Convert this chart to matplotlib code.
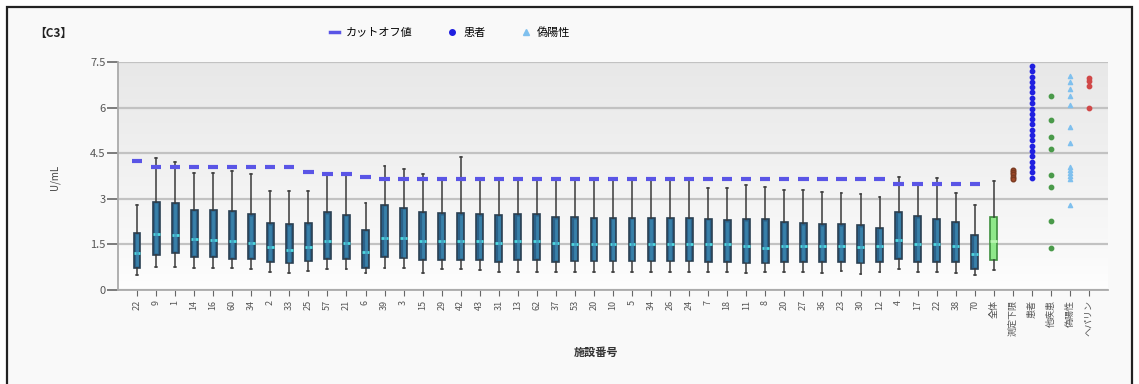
import numpy as np
import matplotlib
matplotlib.use("Agg")
import matplotlib.pyplot as plt
from matplotlib.lines import Line2D
from matplotlib.patches import Rectangle
from matplotlib.colors import LinearSegmentedColormap

plt.rcParams.update({
    "font.family": ["Noto Sans CJK JP", "DejaVu Sans"],
    "font.size": 8,
    "axes.unicode_minus": False,
})

# ---------------------------------------------------------------- data ----
SITES = ["22", "9", "1", "14", "16", "60", "34", "2", "33", "25", "57", "21", "6",
         "39", "3", "15", "29", "42", "43", "31", "13", "62", "37", "53", "20", "10",
         "5", "34", "26", "24", "7", "18", "11", "8", "20", "27", "36", "23", "30",
         "12", "4", "17", "22", "38", "70", "全体"]
GROUPS = ["測定下限", "患者", "他疾患", "偽陽性", "ヘパリン"]

WHIS_LO = [0.50, 0.76, 0.76, 0.73, 0.73, 0.73, 0.68, 0.60, 0.55, 0.62, 0.68, 0.68, 0.57,
           0.73, 0.73, 0.57, 0.68, 0.68, 0.65, 0.60, 0.60, 0.60, 0.60, 0.60, 0.60, 0.60,
           0.60, 0.60, 0.60, 0.60, 0.60, 0.60, 0.55, 0.60, 0.60, 0.60, 0.55, 0.62, 0.52,
           0.60, 0.68, 0.60, 0.60, 0.55, 0.50, 0.66]
Q1 = [0.73, 1.16, 1.22, 1.10, 1.10, 1.02, 1.02, 0.93, 0.88, 0.95, 1.02, 1.02, 0.73,
      1.10, 1.05, 1.00, 1.00, 1.00, 1.00, 0.93, 1.00, 1.00, 0.93, 0.95, 0.95, 0.95,
      0.95, 0.95, 0.95, 0.95, 0.93, 0.93, 0.88, 0.88, 0.93, 0.93, 0.93, 0.93, 0.88,
      0.93, 1.02, 0.93, 0.93, 0.93, 0.70, 1.00]
MED = [1.22, 1.85, 1.80, 1.68, 1.65, 1.60, 1.55, 1.40, 1.33, 1.40, 1.60, 1.55, 1.25,
       1.70, 1.70, 1.60, 1.60, 1.60, 1.60, 1.55, 1.60, 1.60, 1.55, 1.50, 1.50, 1.50,
       1.50, 1.50, 1.50, 1.50, 1.50, 1.50, 1.45, 1.38, 1.45, 1.45, 1.45, 1.45, 1.40,
       1.45, 1.65, 1.50, 1.50, 1.45, 1.20, 1.60]
Q3 = [1.88, 2.90, 2.87, 2.64, 2.64, 2.61, 2.50, 2.20, 2.17, 2.20, 2.55, 2.47, 1.98,
      2.80, 2.70, 2.58, 2.53, 2.53, 2.50, 2.47, 2.50, 2.50, 2.40, 2.40, 2.38, 2.38,
      2.38, 2.38, 2.38, 2.38, 2.35, 2.30, 2.33, 2.33, 2.25, 2.20, 2.17, 2.17, 2.13,
      2.05, 2.58, 2.43, 2.35, 2.25, 1.82, 2.40]
WHIS_HI = [2.80, 4.33, 4.20, 3.85, 3.85, 3.90, 3.80, 3.27, 3.25, 3.27, 3.83, 3.83, 2.87,
           4.07, 3.97, 3.80, 3.63, 4.36, 3.63, 3.63, 3.70, 3.70, 3.63, 3.63, 3.63, 3.63,
           3.63, 3.63, 3.63, 3.63, 3.37, 3.37, 3.47, 3.40, 3.30, 3.30, 3.23, 3.20, 3.17,
           3.07, 3.73, 3.53, 3.70, 3.20, 2.80, 3.57]
CUTOFF = [4.23, 4.03, 4.03, 4.03, 4.03, 4.03, 4.03, 4.03, 4.03, 3.87, 3.80, 3.80, 3.73,
          3.65, 3.65, 3.65, 3.65, 3.65, 3.65, 3.65, 3.65, 3.65, 3.65, 3.65, 3.65, 3.65,
          3.65, 3.65, 3.65, 3.65, 3.65, 3.65, 3.65, 3.65, 3.65, 3.65, 3.65, 3.65, 3.65,
          3.65, 3.50, 3.50, 3.50, 3.50, 3.50]

LOWER_LIMIT = [3.95, 3.87, 3.80, 3.72, 3.65]
PATIENTS = [7.37, 7.20, 7.02, 6.85, 6.67, 6.50, 6.32, 6.15, 5.97, 5.80, 5.62, 5.45,
            5.27, 5.10, 4.92, 4.75, 4.57, 4.40, 4.22, 4.05, 3.87, 3.70]
OTHER = [6.38, 5.58, 5.02, 4.63, 3.77, 3.40, 2.28, 1.39]
FALSE_POS = [7.03, 6.84, 6.60, 6.38, 6.08, 5.35, 4.82, 4.05, 3.95, 3.85, 3.75, 3.65, 2.80]
HEPARIN = [6.97, 6.87, 6.70, 6.00]

BOX_BLUE, BOX_EDGE, MED_CYAN = "#2a6189", "#2b4052", "#4fd8e0"
CUT_BLUE = "#5a55e6"


def main():
    fig = plt.figure(figsize=(11.39, 3.84), dpi=100)
    fig.patch.set_facecolor("white")
    fig.add_artist(Rectangle((7 / 1139, -0.1), 1125 / 1139, 1.1 - 7 / 384,
                             transform=fig.transFigure, fc="#f9f9f9", ec="#222222",
                             lw=1.6, zorder=-10))
    ax = fig.add_axes([118 / 1139, 1 - 290 / 384, 990 / 1139, 228 / 384])
    ax.patch.set_alpha(0)

    # gradient plot background
    cmap = LinearSegmentedColormap.from_list("bg", ["#ffffff", "#f5f5f5", "#e8e8e8"])
    ax.imshow(np.linspace(0, 1, 256)[:, None] ** 0.7, extent=[0, 52, 0, 7.5], origin="lower",
              aspect="auto", cmap=cmap, zorder=0)

    n = len(SITES)
    pos = np.arange(1, n + 1)
    stats = [dict(whislo=a, q1=b, med=c, q3=d, whishi=e, fliers=[])
             for a, b, c, d, e in zip(WHIS_LO, Q1, MED, Q3, WHIS_HI)]
    bp = ax.bxp(stats, positions=pos, widths=0.36, patch_artist=True, manage_ticks=False,
                boxprops=dict(fc=BOX_BLUE, ec=BOX_EDGE, lw=1.2),
                whiskerprops=dict(color="#3a3a3a", lw=1.1),
                capprops=dict(color="#3a3a3a", lw=1.1),
                medianprops=dict(color=MED_CYAN, lw=2.0), capwidths=0.1)
    for art in bp["boxes"] + bp["whiskers"] + bp["caps"] + bp["medians"]:
        art.set_zorder(3)
    bp["boxes"][-1].set_facecolor("#8fe88a")
    bp["boxes"][-1].set_edgecolor("#3e8f3e")
    bp["medians"][-1].set_color("#b8f5b0")
    # lighter centre stripe inside the boxes
    ax.vlines(pos[:-1], np.array(Q1[:-1]) + 0.05, np.array(Q3[:-1]) - 0.05,
              color="#3f8fb8", lw=2.0, alpha=0.7, zorder=3.2)

    # cut-off dashes
    cx = pos[:len(CUTOFF)]
    ax.hlines(CUTOFF, cx - 0.27, cx + 0.27, color=CUT_BLUE, lw=3, zorder=4)

    # extra groups
    gx = np.arange(n + 1, n + 1 + len(GROUPS))
    ax.scatter([gx[0]] * len(LOWER_LIMIT), LOWER_LIMIT, s=11, color="#a04a2a", ec="#7a3a20", zorder=4)
    ax.scatter([gx[1]] * len(PATIENTS), PATIENTS, s=10, color="#2020e0", zorder=4)
    ax.scatter([gx[2]] * len(OTHER), OTHER, s=10, color="#4a9a4a", zorder=4)
    ax.scatter([gx[3]] * len(FALSE_POS), FALSE_POS, s=9, marker="^", color="#7fc0ee", zorder=4)
    ax.scatter([gx[4]] * len(HEPARIN), HEPARIN, s=10, color="#d04848", zorder=4)

    ax.set_xlim(0, 52)
    ax.set_ylim(0, 7.5)
    ax.set_yticks([0, 1.5, 3, 4.5, 6, 7.5])
    ax.set_yticklabels(["0", "1.5", "3", "4.5", "6", "7.5"])
    ax.set_xticks(np.concatenate([pos, gx]))
    ax.set_xticklabels(SITES + GROUPS, rotation=90, fontsize=6.5, color="#555555")
    ax.tick_params(axis="y", colors="#666666", length=8, width=1.2, labelsize=8, pad=1)
    ax.tick_params(axis="x", colors="#666666", length=4, width=0.8, pad=3)
    for lab in ax.get_yticklabels() + ax.get_xticklabels():
        lab.set_color("#555555")
    ax.grid(axis="y", color="#c2c2c2", lw=1.6, zorder=1)
    ax.set_axisbelow(True)
    for s in ("top", "right"):
        ax.spines[s].set_visible(False)
    for s in ("left", "bottom"):
        ax.spines[s].set_color("#aaaaaa")
        ax.spines[s].set_linewidth(1.3)

    fig.text(55 / 1139, 1 - 177 / 384, "U/mL", rotation=90, ha="center", va="center",
             fontsize=7, color="#444444")
    fig.text(596 / 1139, 1 - 352 / 384, "施設番号", ha="center", va="center",
             fontsize=8, color="#333333", fontweight="bold")
    fig.text(34 / 1139, 1 - 33 / 384, "【C3】", ha="left", va="center",
             fontsize=8.5, color="#222222", fontweight="bold")

    handles = [Line2D([], [], color=CUT_BLUE, lw=2.5),
               Line2D([], [], ls="none", marker="o", ms=4, color="#2020e0"),
               Line2D([], [], ls="none", marker="^", ms=4, color="#7fc0ee")]
    fig.legend(handles, ["カットオフ値", "患者", "偽陽性"], ncol=3, frameon=False,
               loc="center", bbox_to_anchor=(450 / 1139, 1 - 33 / 384), fontsize=8,
               handlelength=0.8, handletextpad=0.6, columnspacing=3.2)

    fig.savefig("out.png", dpi=100, facecolor="white")
    plt.close(fig)


if __name__ == "__main__":
    main()
